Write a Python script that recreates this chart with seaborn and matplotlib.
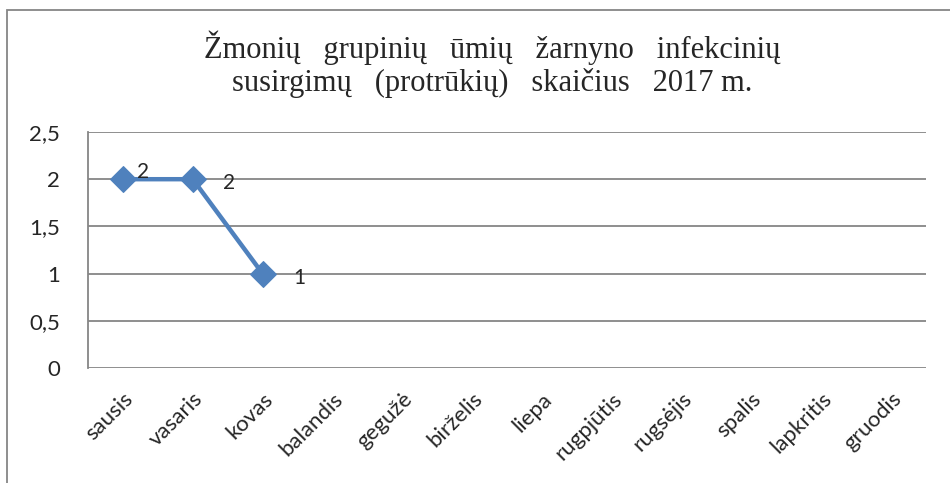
"""Žmonių grupinių ūmių žarnyno infekcinių susirgimų (protrūkių) skaičius 2017 m."""
import numpy as np
import pandas as pd
import matplotlib
matplotlib.use("Agg")
import matplotlib.pyplot as plt
import seaborn as sns

MONTHS = ["sausis", "vasaris", "kovas", "balandis", "gegužė", "birželis",
          "liepa", "rugpjūtis", "rugsėjis", "spalis", "lapkritis", "gruodis"]
OUTBREAKS = [2, 2, 1]
Y_TICKS = [0, 0.5, 1, 1.5, 2, 2.5]
Y_TICK_LABELS = ["0", "0,5", "1", "1,5", "2", "2,5"]
TITLE = ("Žmonių   grupinių   ūmių   žarnyno   infekcinių\n"
         "susirgimų   (protrūkių)   skaičius   2017 m.")

LINE_COLOR = "#4F81BD"
GRID_COLOR = "#868686"

sns.set_theme(style="white")
plt.rcParams["font.family"] = ["Lato", "DejaVu Sans"]

df = pd.DataFrame({"pos": np.arange(len(OUTBREAKS)), "count": OUTBREAKS,
                   "month": MONTHS[:len(OUTBREAKS)]})

fig = plt.figure(figsize=(9.5, 4.83), dpi=100)
ax = fig.add_axes([88 / 950, 1 - 368 / 483, (926 - 88) / 950, (368 - 132) / 483])

sns.lineplot(data=df, x="pos", y="count", ax=ax, color=LINE_COLOR, lw=3.2,
             marker="D", markersize=13, markeredgecolor=LINE_COLOR, sort=False)

# excel-like data labels, placed to the right of points
offsets = [(10, 5), (22, -3), (22, -3)]
for (x, y), (dx, dy) in zip(zip(df["pos"], df["count"]), offsets):
    ax.annotate(f"{y:g}", (x, y), xytext=(dx, dy), textcoords="offset points",
                ha="left", va="center", fontsize=15)

ax.set_xlim(-0.5, len(MONTHS) - 0.5)
ax.set_ylim(0, 2.5)
ax.set_xticks(np.arange(len(MONTHS)))
ax.set_xticklabels(MONTHS, rotation=45, ha="right", rotation_mode="anchor", fontsize=16)
ax.set_yticks(Y_TICKS)
ax.set_yticklabels(Y_TICK_LABELS, fontsize=16)
ax.tick_params(axis="y", length=0, pad=20)
ax.tick_params(axis="x", length=0, pad=15)
ax.set_xlabel(""); ax.set_ylabel("")
ax.yaxis.grid(True, color=GRID_COLOR, lw=1.3)
ax.set_axisbelow(True)
for s in ["top", "right", "bottom"]:
    ax.spines[s].set_visible(False)
ax.spines["left"].set_color(GRID_COLOR)
ax.spines["left"].set_linewidth(1.3)

fig.text(492 / 950, 1 - 64 / 483, TITLE, ha="center", va="center",
         fontsize=22, family="Liberation Serif", linespacing=1.15)

# chart frame (cut off on right and bottom like the source)
fig.add_artist(plt.Rectangle((7 / 950, -0.05), 1.0, 1 - 10 / 483 + 0.05,
                             transform=fig.transFigure, fill=False,
                             edgecolor=GRID_COLOR, lw=1.3))

fig.savefig("out.png", dpi=100)
